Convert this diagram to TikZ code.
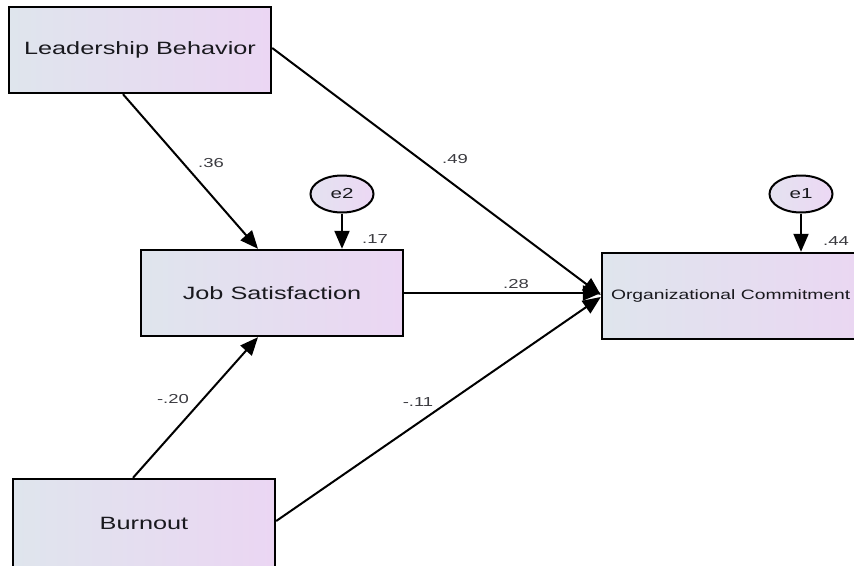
\documentclass[tikz,border=0pt]{standalone}
\usepackage{fontspec}
\usepackage{graphicx}
\setmainfont{Liberation Sans}
\usetikzlibrary{arrows.meta,shapes.geometric}
\definecolor{boxleft}{RGB}{223,229,237}
\definecolor{boxright}{RGB}{235,214,243}
\definecolor{elleft}{RGB}{228,226,240}
\definecolor{elright}{RGB}{236,216,244}
\definecolor{txt}{RGB}{25,25,30}
\newcommand{\wtxt}[1]{\scalebox{1.42}[1]{#1}}
\tikzset{
  varbox/.style={draw=black, line width=2.4pt, rectangle, inner sep=0pt,
    minimum width=262pt, minimum height=86pt, left color=boxleft, right color=boxright,
    text=txt, font=\fontsize{17.8}{20}\selectfont},
  errnode/.style={draw=black, line width=2pt, ellipse, inner sep=0pt,
    minimum width=63pt, minimum height=37pt, left color=elleft, right color=elright,
    text=txt, font=\fontsize{14.5}{16}\selectfont},
  path/.style={draw=black, line width=2pt, -{Triangle[length=18pt,width=15pt]}},
  coef/.style={text=txt!85, font=\fontsize{13}{14}\selectfont, inner sep=0pt}
}
\begin{document}
\begin{tikzpicture}[x=1pt,y=-1pt]
\useasboundingbox (0,0) rectangle (854,565);
\clip (0,0) rectangle (854,565);
\fill[white] (0,0) rectangle (854,565);

\node[varbox] (lb) at (140,50) {\wtxt{Leadership Behavior}};
\node[varbox] (js) at (272,293) {\wtxt{Job Satisfaction}};
\node[varbox, minimum width=274pt] (oc) at (739,296) {};
\node[anchor=west, inner sep=0pt, text=txt, font=\fontsize{13.6}{15}\selectfont] (octxt) at ([xshift=10pt]oc.west) {\wtxt{Organizational Commitment}};
\node[varbox, minimum height=88pt] (bo) at (144,523) {\wtxt{Burnout}};
\node[errnode] (e2) at (342,194) {\wtxt{e2}};
\node[errnode] (e1) at (801,194) {\wtxt{e1}};

\draw[path] ([xshift=-17pt]lb.south) -- ([xshift=-14pt]js.north);
\draw[path] ([yshift=2pt]lb.east) -- ([yshift=1pt]oc.west);
\draw[path] (js.east) -- ([yshift=3pt]oc.west);
\draw[path] ([xshift=-11pt]bo.north) -- ([xshift=-14pt]js.south);
\draw[path] ([yshift=2pt]bo.east) -- ([yshift=-1pt]oc.west);
\draw[path] (e2.south) -- ([xshift=70pt]js.north);
\draw[path] (e1.south) -- ([xshift=62pt]oc.north);

\node[coef] (c36) at (211,163) {\wtxt{.36}};
\node[coef] (c49) at (455,159) {\wtxt{.49}};
\node[coef] (c28) at (516,284) {\wtxt{.28}};
\node[coef] (c17) at (375,239) {\wtxt{.17}};
\node[coef] (c44) at (836,241) {\wtxt{.44}};
\node[coef] (c20) at (173,399) {\wtxt{-.20}};
\node[coef] (c11) at (418,402) {\wtxt{-.11}};
\end{tikzpicture}
\end{document}
